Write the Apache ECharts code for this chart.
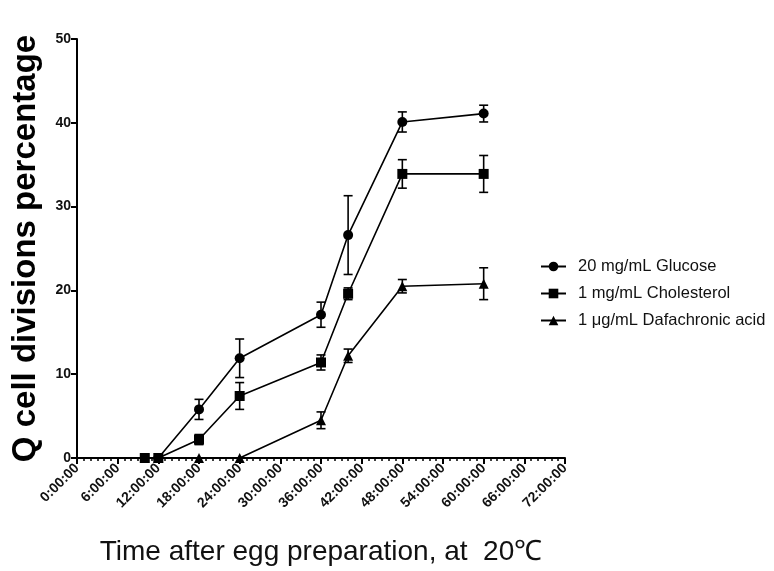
<!DOCTYPE html>
<html><head><meta charset="utf-8">
<script src="https://cdn.jsdelivr.net/npm/echarts@6/dist/echarts.min.js"></script>
<style>html,body{margin:0;padding:0;background:#fff}#c{width:774px;height:571px}</style>
</head><body><div id="c"></div>
<script>
const xTicks = [0,6,12,18,24,30,36,42,48,54,60,66,72];
const seriesNames = ['20 mg/mL Glucose','1 mg/mL Cholesterol','1 μg/mL Dafachronic acid'];
const glucoseTime = [12,18,24,36,40,48,60];
const glucoseMean = [0,5.8,11.9,17.1,26.6,40.1,41.1];
const glucoseErr  = [0,1.2,2.3,1.5,4.7,1.2,1.0];
const cholTime = [10,12,18,24,36,40,48,60];
const cholMean = [0,0,2.2,7.4,11.4,19.6,33.9,33.9];
const cholErr  = [0,0,0.6,1.6,0.9,0.7,1.7,2.2];
const dafaTime = [12,18,24,36,40,48,60];
const dafaMean = [0,0,0,4.5,12.2,20.5,20.8];
const dafaErr  = [0,0,0,1.0,0.8,0.8,1.9];

const groups = [
  {name: seriesNames[0], t: glucoseTime, m: glucoseMean, e: glucoseErr, sym: 'circle', size: 10},
  {name: seriesNames[1], t: cholTime, m: cholMean, e: cholErr, sym: 'rect', size: 10},
  {name: seriesNames[2], t: dafaTime, m: dafaMean, e: dafaErr, sym: 'triangle', size: 10}
];

const series = [];
groups.forEach(g => {
  series.push({
    name: g.name, type: 'line', data: g.t.map((t,i)=>[t,g.m[i]]),
    symbol: g.sym, symbolSize: g.size, showAllSymbol: true,
    lineStyle: {color:'#000', width:1.6}, itemStyle:{color:'#000'}, z: 3
  });
  series.push({
    type: 'custom', name: g.name + ' err', silent: true, z: 2,
    data: g.t.map((t,i)=>[t, g.m[i], g.e[i]]).filter(d=>d[2]>0),
    renderItem: function(params, api){
      const x = api.value(0), y = api.value(1), e = api.value(2);
      const top = api.coord([x, y+e]);
      const bot = api.coord([x, y-e]);
      const w = 4.5;
      const st = {stroke:'#000', lineWidth:1.6};
      return {type:'group', children:[
        {type:'line', shape:{x1:top[0],y1:top[1],x2:bot[0],y2:bot[1]}, style:st},
        {type:'line', shape:{x1:top[0]-w,y1:top[1],x2:top[0]+w,y2:top[1]}, style:st},
        {type:'line', shape:{x1:bot[0]-w,y1:bot[1],x2:bot[0]+w,y2:bot[1]}, style:st}
      ]};
    }
  });
});

const chart = echarts.init(document.getElementById('c'));
chart.setOption({
  animation: false,
  backgroundColor: '#fff',
  grid: {left: 77, right: 209, top: 39, bottom: 112, containLabel: false},
  legend: {
    data: seriesNames, orient: 'vertical', left: 535, top: 253,
    itemWidth: 25, itemHeight: 12, itemGap: 10,
    textStyle: {fontFamily: 'Liberation Sans', fontSize: 16.5, lineHeight: 17, color:'#111', padding: [0,0,0,7]}
  },
  xAxis: {
    type: 'value', min: 0, max: 72, interval: 6,
    axisLine: {show: true, onZero: false, lineStyle: {color:'#000', width:2}},
    axisTick: {show: true, length: 6, lineStyle:{color:'#000', width:2}},
    minorTick: {show: true, splitNumber: 6, length: 3, lineStyle:{color:'#000', width:1.5}},
    splitLine: {show: false},
    axisLabel: {rotate: 45, fontFamily: 'Liberation Sans', fontWeight: 'bold', fontSize: 14, color:'#111', margin: 8,
      formatter: v => xTicks.includes(v) ? v + ':00:00' : ''},
    name: 'Time after egg preparation, at  20℃', nameLocation: 'middle', nameGap: 80,
    nameTextStyle: {fontFamily: 'Liberation Sans', fontSize: 28, color:'#111'}
  },
  yAxis: {
    type: 'value', min: 0, max: 50, interval: 10,
    axisLine: {show: true, lineStyle: {color:'#000', width:2}},
    axisTick: {show: true, length: 6, lineStyle:{color:'#000', width:2}},
    splitLine: {show: false},
    axisLabel: {fontFamily: 'Liberation Sans', fontWeight: 'bold', fontSize: 14, color:'#111', margin: 6},
    name: 'Q cell divisions percentage', nameLocation: 'middle', nameGap: 35,
    nameTextStyle: {fontFamily: 'Liberation Sans', fontWeight: 'bold', fontSize: 33, color:'#000'}
  },
  series: series
});
</script></body></html>
